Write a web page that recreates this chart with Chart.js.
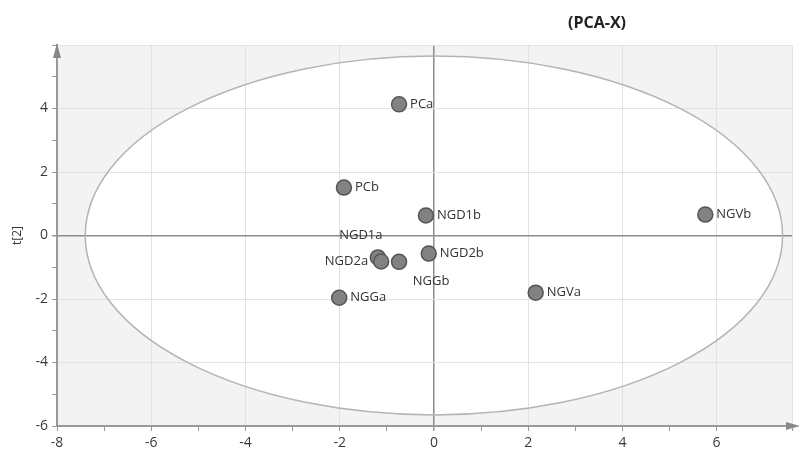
<!DOCTYPE html>
<html>
<head>
<meta charset="utf-8">
<script src="https://cdn.jsdelivr.net/npm/chart.js@4"></script>
<style>
  body { margin: 0; background: #fff; }
  #wrap { width: 801px; height: 450px; }
</style>
</head>
<body>
<div id="wrap"><canvas id="chart" width="801" height="450"></canvas></div>
<script>
// scores t[1] / t[2]
const sampleNames = ['PCa', 'PCb', 'NGD1b', 'NGVb', 'NGD1a', 'NGD2a', 'NGGb', 'NGD2b', 'NGGa', 'NGVa'];
const t1 = [-0.74, -1.91, -0.17, 5.76, -1.19, -1.12, -0.74, -0.11, -2.01, 2.16];
const t2 = [4.13, 1.51, 0.63, 0.66, -0.69, -0.82, -0.83, -0.57, -1.96, -1.80];
const xRange = [-8, 7.6];
const yRange = [-6, 6];
const ellipseRadii = [7.4, 5.65]; // Hotelling T2 ellipse, centred at 0,0

// where each label sits relative to its point (dx, dy, align)
const labelPlace = {
  NGD1a: [-17, -22, 'center'],
  NGD2a: [-13, 0, 'right'],
  NGGb: [32, 19, 'center']
}

const font = '"Open Sans", "Noto Sans", sans-serif'

const points = t1.map((x, i) => ({ x: x, y: t2[i], name: sampleNames[i] }))

const bgPlugin = {
  id: 'bg',
  beforeDraw(chart) {
    const { ctx, chartArea: a, scales: { x, y } } = chart
    ctx.save()
    ctx.fillStyle = '#f3f3f3'
    ctx.fillRect(a.left, a.top, a.right - a.left, a.bottom - a.top)
    const cx = x.getPixelForValue(0), cy = y.getPixelForValue(0)
    const rx = x.getPixelForValue(ellipseRadii[0]) - cx
    const ry = cy - y.getPixelForValue(ellipseRadii[1])
    ctx.fillStyle = '#ffffff'
    ctx.beginPath()
    ctx.ellipse(cx, cy, rx, ry, 0, 0, Math.PI * 2)
    ctx.fill()
    ctx.restore()
  },
  beforeDatasetsDraw(chart) {
    const { ctx, scales: { x, y } } = chart
    const cx = x.getPixelForValue(0), cy = y.getPixelForValue(0)
    const rx = x.getPixelForValue(ellipseRadii[0]) - cx
    const ry = cy - y.getPixelForValue(ellipseRadii[1])
    ctx.save()
    ctx.strokeStyle = '#b4b4b4'
    ctx.lineWidth = 1.5
    ctx.beginPath()
    ctx.ellipse(cx, cy, rx, ry, 0, 0, Math.PI * 2)
    ctx.stroke()
    ctx.restore()
  },
  afterDraw(chart) {
    const { ctx, chartArea: a } = chart
    ctx.save()
    // arrows on the axes
    ctx.fillStyle = '#888'
    ctx.beginPath()
    ctx.moveTo(a.left, a.top - 2)
    ctx.lineTo(a.left - 4, a.top + 13)
    ctx.lineTo(a.left + 4, a.top + 13)
    ctx.closePath()
    ctx.fill()
    ctx.strokeStyle = '#999'
    ctx.lineWidth = 2
    ctx.beginPath()
    ctx.moveTo(a.right, a.bottom)
    ctx.lineTo(a.right + 4, a.bottom)
    ctx.stroke()
    ctx.beginPath()
    ctx.moveTo(a.right + 8, a.bottom)
    ctx.lineTo(a.right - 6, a.bottom - 4)
    ctx.lineTo(a.right - 6, a.bottom + 4)
    ctx.closePath()
    ctx.fill()

    // labels
    const meta = chart.getDatasetMeta(0)
    ctx.font = '13px ' + font
    ctx.fillStyle = '#333'
    ctx.textBaseline = 'middle'
    meta.data.forEach((el, i) => {
      const name = sampleNames[i]
      const p = labelPlace[name] || [11, 0, 'left']
      ctx.textAlign = p[2]
      ctx.fillText(name, el.x + p[0], el.y + p[1])
    })

    // title
    ctx.font = 'bold 16px ' + font
    ctx.fillStyle = '#222'
    ctx.textAlign = 'center'
    ctx.fillText('(PCA-X)', 597, 23)
    ctx.restore()
  }
}

const gridColor = c => {
  const v = c.tick.value
  if (v === 0) return '#8c8c8c'
  if (Math.abs(v) % 2 === 1) return 'rgba(0,0,0,0)'
  return '#e2e2e2'
}

new Chart(document.getElementById('chart'), {
  type: 'scatter',
  data: {
    datasets: [{
      data: points,
      backgroundColor: '#828282',
      borderColor: '#555555',
      borderWidth: 1.5,
      pointRadius: 7.5,
      pointHoverRadius: 7.5
    }]
  },
  options: {
    responsive: false,
    animation: false,
    layout: { padding: { top: 45, right: 9, left: 0, bottom: 0 } },
    plugins: { legend: { display: false }, tooltip: { enabled: false } },
    scales: {
      x: {
        type: 'linear',
        min: xRange[0],
        max: xRange[1],
        afterFit: s => { s.height = 24 },
        ticks: {
          stepSize: 1,
          autoSkip: false,
          maxRotation: 0,
          padding: 4,
          color: '#3a3a3a',
          font: { family: font, size: 14 },
          callback: v => (Math.abs(v) % 2 === 0 ? String(v) : '')
        },
        grid: {
          color: gridColor,
          lineWidth: c => (c.tick.value === 0 ? 1.5 : 1),
          tickColor: '#999',
          tickLength: 5
        },
        border: { color: '#999', width: 2 }
      },
      y: {
        type: 'linear',
        min: yRange[0],
        max: yRange[1],
        afterFit: s => { s.width = 57 },
        ticks: {
          stepSize: 1,
          autoSkip: false,
          padding: 4,
          color: '#3a3a3a',
          font: { family: font, size: 14 },
          callback: v => (Math.abs(v) % 2 === 0 && v !== 6 ? String(v) : '')
        },
        grid: {
          color: gridColor,
          lineWidth: c => (c.tick.value === 0 ? 1.5 : 1),
          tickColor: '#999',
          tickLength: 5
        },
        border: { color: '#999', width: 2 },
        title: {
          display: true,
          text: 't[2]',
          color: '#333',
          font: { family: font, size: 12 },
          padding: { top: 10, bottom: 0 }
        }
      }
    }
  },
  plugins: [bgPlugin]
})
</script>
</body>
</html>
